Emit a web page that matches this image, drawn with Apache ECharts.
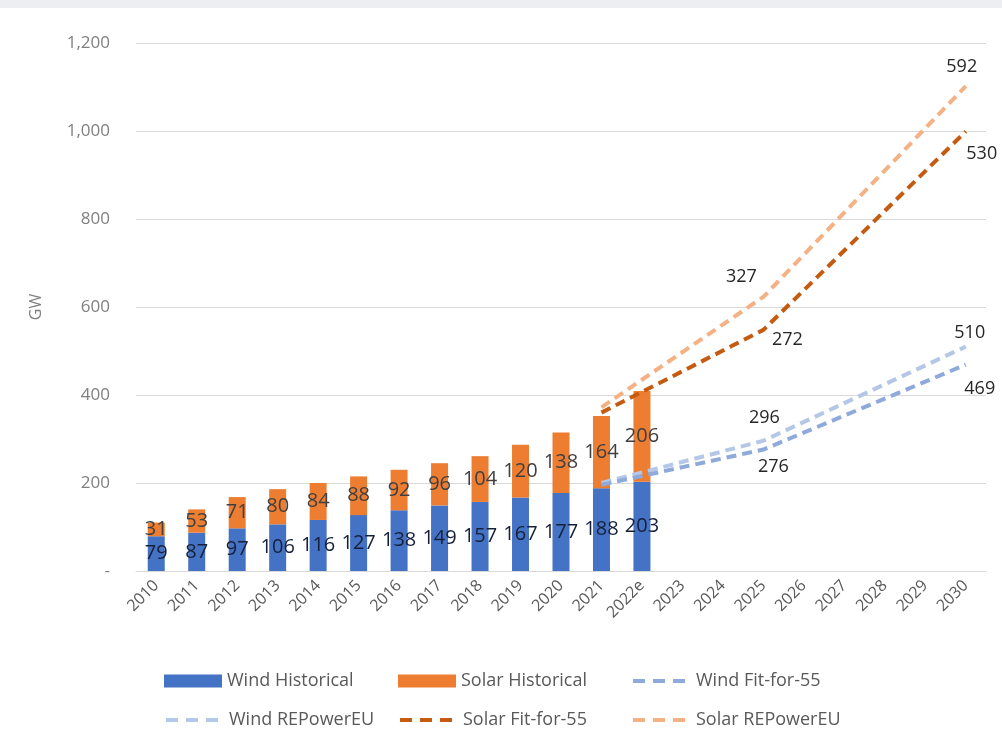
<!DOCTYPE html>
<html>
<head>
<meta charset="utf-8">
<script src="https://cdn.jsdelivr.net/npm/echarts@6/dist/echarts.min.js"></script>
<style>
  html, body { margin: 0; padding: 0; background: #fff; }
  #chart { width: 1002px; height: 730px; }
</style>
</head>
<body>
<div id="chart"></div>
<script>
const years = ["2010", "2011", "2012", "2013", "2014", "2015", "2016", "2017", "2018", "2019", "2020",
  "2021", "2022e", "2023", "2024", "2025", "2026", "2027", "2028", "2029", "2030"];
const yTicks = [0, 200, 400, 600, 800, 1000, 1200];

// historical capacity, GW
const windHistorical = [79, 87, 97, 106, 116, 127, 138, 149, 157, 167, 177, 188, 203];
const solarHistorical = [31, 53, 71, 80, 84, 88, 92, 96, 104, 120, 138, 164, 206];

// scenario points (year -> GW); solar lines sit on top of wind lines
const windFit55 = { "2021": 196, "2025": 276, "2030": 469 };
const solarFit55 = { "2021": 164, "2025": 272, "2030": 530 };
const windRepower = { "2021": 200, "2025": 296, "2030": 510 };
const solarRepower = { "2021": 172, "2025": 327, "2030": 592 };

const labelYears = ["2025", "2030"];
const labelFont = "'Open Sans', 'Noto Sans', sans-serif";

function scenarioData(points, offsets) {
  return years.map((y) => {
    if (points[y] === undefined) return null;
    const item = { value: points[y] };
    if (labelYears.includes(y)) {
      item.label = { show: true, offset: offsets[y] };
    }
    return item;
  });
}

function scenarioSeries(name, stack, color, points, offsets, z) {
  return {
    name,
    type: "line",
    stack,
    z,
    connectNulls: true,
    symbol: "circle",
    symbolSize: 1,
    itemStyle: { color: "rgba(0,0,0,0)" },
    lineStyle: { color, width: 4, type: [10, 6] },
    label: {
      show: false,
      position: "inside",
      color: "#262626",
      fontSize: 18,
      fontFamily: labelFont,
    },
    emphasis: { disabled: true },
    data: scenarioData(points, offsets),
  };
}

const legendStyle = { color: "#595959", fontSize: 18, fontFamily: labelFont };
function legendAt(name, left, top, isBar) {
  return {
    data: [name],
    left,
    top,
    icon: isBar ? "rect" : undefined,
    itemWidth: 58,
    itemHeight: 13,
    itemGap: 10,
    textStyle: legendStyle,
    lineStyle: { width: 4, type: [12, 8] },
    selectedMode: false,
  };
}

const chart = echarts.init(document.getElementById("chart"), null, { renderer: "canvas" });

chart.setOption({
  animation: false,
  backgroundColor: "#ffffff",
  graphic: [
    { type: "rect", left: 0, top: 0, shape: { width: 1002, height: 8 }, style: { fill: "#eceef1" } },
  ],
  grid: { left: 136, right: 16, top: 43, bottom: 159 },
  legend: [
    legendAt("Wind Historical", 159, 667, true),
    legendAt("Solar Historical", 393, 667, true),
    legendAt("Wind Fit-for-55", 626, 667, false),
    legendAt("Wind REPowerEU", 159, 706, false),
    legendAt("Solar Fit-for-55", 393, 706, false),
    legendAt("Solar REPowerEU", 626, 706, false),
  ],
  xAxis: {
    type: "category",
    data: years,
    axisTick: { show: false },
    axisLine: { lineStyle: { color: "#d9d9d9", width: 1 } },
    axisLabel: {
      rotate: 45,
      interval: 0,
      margin: 12,
      color: "#595959",
      fontSize: 16,
      fontFamily: labelFont,
    },
  },
  yAxis: {
    type: "value",
    min: 0,
    max: 1200,
    interval: 200,
    name: "GW",
    nameLocation: "middle",
    nameGap: 92,
    nameTextStyle: { color: "#7f7f7f", fontSize: 16, fontFamily: labelFont },
    axisLine: { show: false },
    axisTick: { show: false },
    splitLine: { lineStyle: { color: "#d9d9d9", width: 1 } },
    axisLabel: {
      margin: 26,
      color: "#808080",
      fontSize: 17,
      fontFamily: labelFont,
      customValues: yTicks,
      formatter: (v) => (v === 0 ? "-" : v.toLocaleString("en-US")),
    },
  },
  series: [
    {
      name: "Wind Historical",
      type: "bar",
      stack: "hist",
      barWidth: 17,
      itemStyle: { color: "#4472c4" },
      label: {
        show: true,
        position: "inside",
        color: "#17203a",
        fontSize: 20,
        fontFamily: labelFont,
      },
      data: windHistorical,
    },
    {
      name: "Solar Historical",
      type: "bar",
      stack: "hist",
      barWidth: 17,
      itemStyle: { color: "#ed7d31" },
      label: {
        show: true,
        position: "inside",
        color: "#404040",
        fontSize: 20,
        fontFamily: labelFont,
      },
      data: solarHistorical,
    },
    scenarioSeries("Wind Fit-for-55", "fit", "#8eaadb", windFit55,
      { "2025": [10, 17], "2030": [14, 24] }, 4),
    scenarioSeries("Solar Fit-for-55", "fit", "#c55a11", solarFit55,
      { "2025": [24, 10], "2030": [16, 22] }, 4),
    scenarioSeries("Wind REPowerEU", "rep", "#b4c7e7", windRepower,
      { "2025": [1, -23], "2030": [4, -14] }, 3),
    scenarioSeries("Solar REPowerEU", "rep", "#f4b183", solarRepower,
      { "2025": [-22, -20], "2030": [-4, -19] }, 3),
  ],
});
</script>
</body>
</html>
